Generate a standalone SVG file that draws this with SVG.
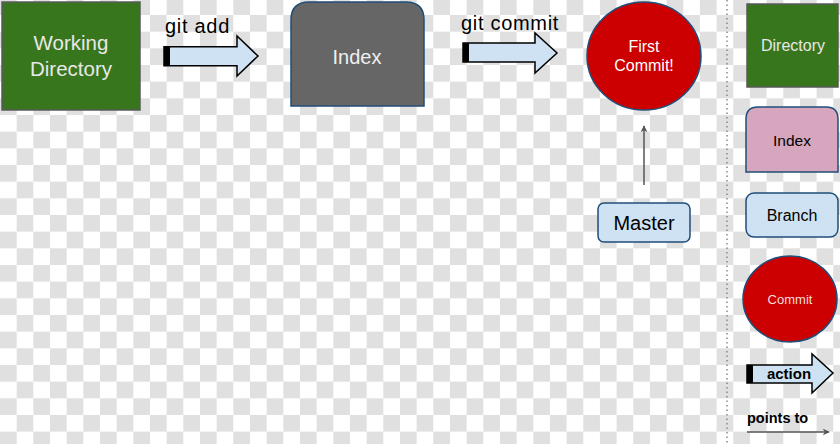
<svg xmlns="http://www.w3.org/2000/svg" width="840" height="444" viewBox="0 0 840 444">
<defs>
<pattern id="checker" x="0" y="-1.67" width="33.33" height="33.33" patternUnits="userSpaceOnUse">
<rect width="33.33" height="33.33" fill="#ffffff"/>
<rect x="0" y="0" width="16.67" height="16.67" fill="#e0e0e0"/>
<rect x="16.67" y="16.67" width="16.67" height="16.67" fill="#e0e0e0"/>
</pattern>
<marker id="head" viewBox="0 0 10 10" refX="9" refY="5" markerWidth="7" markerHeight="7" orient="auto" markerUnits="userSpaceOnUse">
<path d="M0,0 L10,5 L0,10 L3,5 Z" fill="#555555"/>
</marker>
</defs>
<style>
.t{font-family:"Liberation Sans",Arial,sans-serif;text-anchor:middle}
.l{font-family:"Liberation Sans",Arial,sans-serif}
.dir{fill:#38761d;stroke:#595959;stroke-width:1.5}
.idx{stroke:#1f4e79;stroke-width:1.5}
.br{fill:#cfe2f3;stroke:#1f4e79;stroke-width:1.5}
.cm{fill:#cc0000;stroke:#1f4e79;stroke-width:1.5}
.act{fill:#cfe2f3;stroke:#000000;stroke-width:1.5}
.band{fill:#000000}
.ptr{stroke:#555555;stroke-width:1.5;fill:none}
</style>
<rect width="840" height="444" fill="url(#checker)"/>

<g id="working-directory">
<rect class="dir" x="2" y="2" width="138" height="108"/>
<text class="t" x="71" y="50" font-size="20.5" fill="#e8e8e8">Working</text>
<text class="t" x="71" y="76" font-size="20.5" fill="#e8e8e8">Directory</text>
</g>

<g id="index">
<path class="idx" fill="#666666" d="M291,106 V20 Q291,2 309,2 H406 Q424,2 424,20 V106 Z"/>
<text class="t" x="357" y="64" font-size="20" fill="#f0f0f0">Index</text>
</g>

<g id="first-commit">
<ellipse class="cm" cx="644" cy="56" rx="57" ry="54"/>
<text class="t" x="644" y="52" font-size="16" fill="#ffffff">First</text>
<text class="t" x="644" y="71" font-size="16" fill="#ffffff">Commit!</text>
</g>

<g id="master">
<rect class="br" x="598" y="203" width="92" height="39" rx="6"/>
<text class="t" x="644" y="230" font-size="20" fill="#000000">Master</text>
</g>

<g id="legend-directory">
<rect class="dir" x="747" y="4" width="91" height="83"/>
<text class="t" x="793" y="51" font-size="16" fill="#e8e8e8">Directory</text>
</g>

<g id="legend-index">
<path class="idx" fill="#d5a6bd" d="M746,172 V119 Q746,107 758,107 H826 Q838,107 838,119 V172 Z"/>
<text class="t" x="792" y="146" font-size="15.5" fill="#000000">Index</text>
</g>

<g id="legend-branch">
<rect class="br" x="746" y="193" width="92" height="44" rx="8"/>
<text class="t" x="792" y="221" font-size="16" fill="#000000">Branch</text>
</g>

<g id="legend-commit">
<ellipse class="cm" cx="790" cy="299" rx="47" ry="43"/>
<text class="t" x="790" y="304" font-size="13" fill="#f4dede">Commit</text>
</g>

<g id="legend-action">
<polygon class="act" points="747,365 812,365 812,354 833,373 812,393 812,383 747,383"/>
<rect class="band" x="747" y="365" width="6" height="18"/>
<text class="t" x="789" y="379" font-size="15" font-weight="bold" fill="#000000">action</text>
</g>

<g id="legend-points-to">
<text class="l" x="747" y="423" font-size="14.5" font-weight="bold" fill="#000000">points to</text>
</g>

<line x1="727" y1="0" x2="727" y2="444" stroke="#888888" stroke-width="1.5" stroke-dasharray="1.5,3"/>

<g id="connectors">
<g id="git-add">
<polygon class="act" points="164,46.7 237,46.7 237,36 258,56 237,76 237,65.7 164,65.7"/>
<rect class="band" x="164" y="46.7" width="6" height="19"/>
<text class="l" x="165" y="33" font-size="20" letter-spacing="0.7" fill="#000000">git add</text>
</g>
<g id="git-commit">
<polygon class="act" points="463,43 535,43 535,33 557,53 535,73 535,62 463,62"/>
<rect class="band" x="463" y="43" width="6" height="19"/>
<text class="l" x="461" y="30" font-size="20" letter-spacing="0.7" fill="#000000">git commit</text>
</g>
<line class="ptr" x1="644" y1="185" x2="644" y2="126" marker-end="url(#head)"/>
<line class="ptr" x1="747" y1="432" x2="829" y2="432" marker-end="url(#head)"/>
</g>
</svg>
